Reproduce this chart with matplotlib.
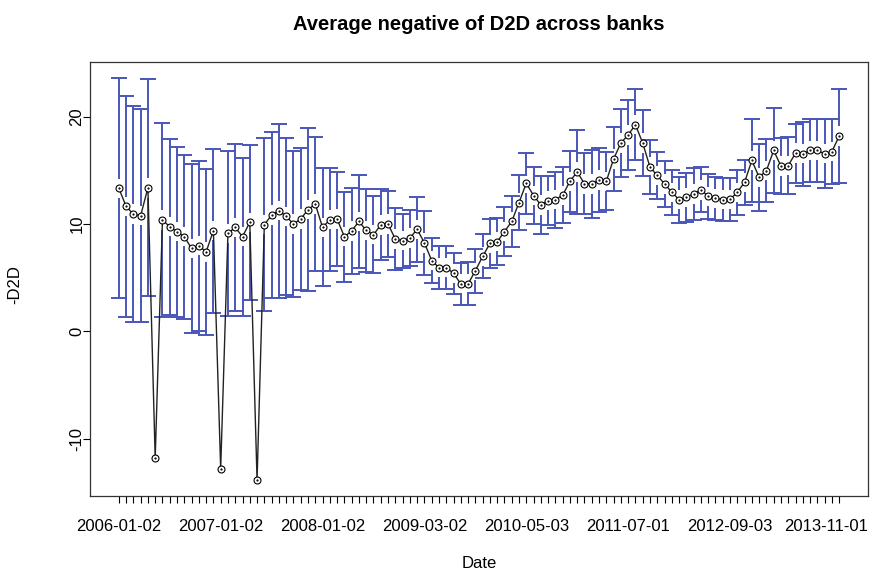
import numpy as np
import matplotlib
matplotlib.use("Agg")
import matplotlib.pyplot as plt
from matplotlib.transforms import ScaledTranslation

plt.rcParams['font.family'] = ['Liberation Sans', 'DejaVu Sans']

# average -D2D per observation (in date order); obs 5, 14 and 19 are the low outliers
neg_d2d = [
    13.34, 11.65, 10.93, 10.78, 13.37, -11.78, 10.37, 9.75, 9.28, 8.82,
    7.73, 7.98, 7.41, 9.38, -12.8, 9.13, 9.69, 8.82, 10.16, -13.87,
    9.94, 10.84, 11.25, 10.72, 10.0, 10.47, 11.34, 11.87, 9.69, 10.4,
    10.47, 8.82, 9.35, 10.25, 9.4, 9.0, 9.92, 10.0, 8.6, 8.45,
    8.7, 9.5, 8.25, 6.6, 5.95, 5.95, 5.42, 4.42, 4.42, 5.65,
    6.98, 8.19, 8.35, 9.3, 10.24, 12.0, 13.8, 12.65, 11.78, 12.18,
    12.27, 12.68, 13.99, 14.85, 13.74, 13.74, 14.1, 13.99, 16.07, 17.54,
    18.3, 19.25, 17.54, 15.3, 14.52, 13.74, 12.96, 12.27, 12.49, 12.8,
    13.18, 12.59, 12.4, 12.27, 12.3, 12.96, 13.89, 15.92, 14.36, 14.98,
    16.85, 15.39, 15.45, 16.6, 16.54, 16.85, 16.85, 16.54, 16.75, 18.19,
]

# half width of the interval (mean +/- this); nan = no interval drawn
half_width = [
    10.27, 10.26, 10.05, 9.9, 10.1, np.nan, 9.0, 8.2, 7.9, 7.65,
    7.85, 7.9, 7.75, 7.65, np.nan, 7.65, 7.8, 7.37, 7.22, np.nan,
    8.05, 7.7, 8.1, 7.3, 6.8, 6.65, 7.6, 6.2, 5.5, 4.8,
    4.4, 4.2, 4.0, 4.3, 3.9, 3.6, 3.3, 3.1, 2.85, 2.5,
    2.6, 3.0, 3.0, 2.1, 2.0, 2.0, 1.9, 1.95, 2.0, 2.05,
    2.05, 2.25, 2.2, 2.25, 2.35, 2.6, 2.85, 2.65, 2.7, 2.3,
    2.6, 2.6, 2.85, 3.9, 2.85, 3.2, 2.95, 2.7, 3.0, 3.15,
    3.25, 3.3, 3.05, 2.5, 2.2, 2.15, 2.1, 2.15, 2.3, 2.4,
    2.1, 2.1, 2.0, 2.0, 2.0, 2.1, 2.1, 3.9, 3.1, 2.9,
    3.95, 2.6, 2.65, 2.75, 3.0, 2.9, 2.9, 3.2, 3.0, 4.35,
]

# only every 14th date fits under the axis
date_labels = ['2006-01-02', '2007-01-02', '2008-01-02', '2009-03-02',
               '2010-05-03', '2011-07-01', '2012-09-03', '2013-11-01']
label_step = 14

mean = np.array(neg_d2d)
hw = np.array(half_width)
x = np.arange(len(mean))
upper = mean + hw
lower = mean - hw

fig = plt.figure(figsize=(8.72, 5.72), dpi=100)
ax = fig.add_axes([0.1032, 0.132, 0.8922, 0.760])

bar_color = '#4a56b8'
gap = 0.9  # leave a little room around each point, like plotCI
ok = ~np.isnan(hw)
ax.vlines(x[ok], mean[ok] + gap, upper[ok], color=bar_color, lw=1.4)
ax.vlines(x[ok], lower[ok], mean[ok] - gap, color=bar_color, lw=1.4)
ax.hlines(upper[ok], x[ok] - 1.1, x[ok] + 1.1, color=bar_color, lw=1.4)
ax.hlines(lower[ok], x[ok] - 1.1, x[ok] + 1.1, color=bar_color, lw=1.4)

ax.plot(x, mean, color='#222222', lw=1.0, marker='o', ms=5,
        mfc='white', mec='black', mew=0.8, zorder=3)
ax.plot(x, mean, 'k.', ms=1.2, zorder=4)

# R style 4% padding
lo = min(np.nanmin(lower), mean.min())
hi = max(np.nanmax(upper), mean.max())
ax.set_xlim(-0.04 * (len(x) - 1), (len(x) - 1) * 1.04)
ax.set_ylim(lo - 0.04 * (hi - lo), hi + 0.04 * (hi - lo))

labels = [''] * len(x)
for k, lab in enumerate(date_labels):
    labels[k * label_step] = lab
ax.set_xticks(x)
ax.set_xticklabels(labels, fontsize=12)
ax.tick_params(axis='x', length=5, width=0.8, pad=11)

# last date sits close to the right edge, nudge it in a bit
last = ax.get_xticklabels()[(len(date_labels) - 1) * label_step]
last.set_transform(last.get_transform() + ScaledTranslation(-6 / 100, 0, fig.dpi_scale_trans))

ax.set_yticks([-10, 0, 10, 20])
ax.set_yticklabels(['-10', '0', '10', '20'], rotation=90, va='center', fontsize=12)
ax.tick_params(axis='y', length=5, width=0.8, pad=-1)

for s in ax.spines.values():
    s.set_linewidth(0.9)
    s.set_color('#333333')

fig.text(479 / 872, 1 - 25 / 572, 'Average negative of D2D across banks',
         ha='center', va='center', fontsize=14.5, fontweight='bold')
fig.text(479 / 872, 1 - 564 / 572, 'Date', ha='center', va='center', fontsize=12)
fig.text(15 / 872, 1 - 285 / 572, '-D2D', ha='center', va='center',
         rotation=90, fontsize=12)

fig.savefig('out.png', dpi=100)
